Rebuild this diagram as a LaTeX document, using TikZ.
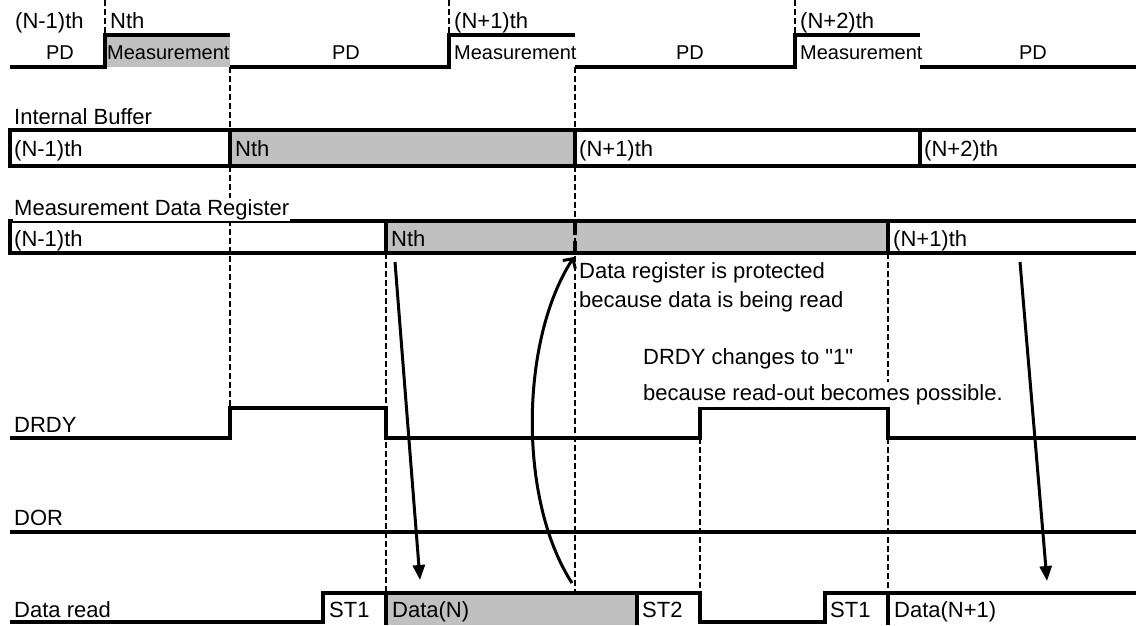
\documentclass[tikz,border=0pt]{standalone}
\usepackage{fontspec}
\setmainfont{Liberation Sans}[Ligatures=TeXOff]
\usetikzlibrary{arrows.meta}
\definecolor{shadegray}{HTML}{C0C0C0}
\newcommand\fsz{\fontsize{22}{26}\selectfont}
\newcommand\fsm{\fontsize{20}{24}\selectfont}
\begin{document}
\begin{tikzpicture}[x=1pt,y=-1pt,
  wave/.style={line width=4pt, line join=miter},
  guide/.style={line width=2pt, dash pattern=on 6pt off 3pt},
  lbl/.style={anchor=base west, inner sep=0pt, font=\fsz},
  slbl/.style={anchor=base west, inner sep=0pt, font=\fsm},
  clbl/.style={anchor=base, inner sep=0pt, font=\fsm},
  arr/.style={line width=3pt, -{Triangle[length=15pt,width=12pt]}},
  carr/.style={line width=3pt, -{Straight Barb[length=7pt,width=15pt,line width=3pt]}}]
\useasboundingbox (0,0) rectangle (1136,625);
% fills
\fill[shadegray] (105,35) rectangle (230,67);
\fill[shadegray] (230,130) rectangle (575,166);
\fill[shadegray] (386,221) rectangle (888,253);
\fill[shadegray] (386,593) rectangle (637,625);
% guides
\draw[guide] (105,0) -- (105,35);
\draw[guide] (449,0) -- (449,35);
\draw[guide] (795,0) -- (795,35);
\draw[guide] (230,67) -- (230,408);
\draw[guide] (575,67) -- (575,593);
\draw[guide] (386,253) -- (386,593);
\draw[guide] (700,438) -- (700,593);
\draw[guide] (888,253) -- (888,408);
\draw[guide] (888,438) -- (888,593);
\draw[line width=4pt, dash pattern=on 14pt off 6pt] (575,221) -- (575,253);
% top row
\draw[wave] (10,67) -- (105,67) -- (105,35) -- (230,35);
\draw[wave] (230,67) -- (449,67) -- (449,35) -- (575,35);
\draw[wave] (575,67) -- (795,67) -- (795,35) -- (920,35);
\draw[wave] (920,67) -- (1136,67);
% internal buffer
\draw[wave] (1136,130) -- (10,130) -- (10,166) -- (1136,166);
\draw[wave] (230,130) -- (230,166);
\draw[wave] (575,130) -- (575,166);
\draw[wave] (920,130) -- (920,166);
% register
\draw[wave] (1136,221) -- (10,221) -- (10,253) -- (1136,253);
\draw[wave] (386,221) -- (386,253);
\draw[wave] (888,221) -- (888,253);
% DRDY
\draw[wave] (10,438) -- (230,438) -- (230,408) -- (386,408) -- (386,438) -- (700,438) -- (700,408) -- (888,408) -- (888,438) -- (1136,438);
% DOR
\draw[wave] (10,532) -- (1136,532);
% Data read
\draw[wave] (10,622) -- (323,622) -- (323,593) -- (700,593) -- (700,622) -- (825,622) -- (825,593) -- (1136,593);
\draw[wave] (386,593) -- (386,625);
\draw[wave] (637,593) -- (637,625);
\draw[wave] (888,593) -- (888,625);
% texts top row
\node[lbl] (tn1) at (15,28) {(N-1)th};
\node[lbl] (tn) at (110,28) {Nth};
\node[lbl] (tn2) at (454,28) {(N+1)th};
\node[lbl] (tn3) at (800,28) {(N+2)th};
\node[clbl] (pd1) at (60,59) {PD};
\node[slbl] (m1) at (107,59) {Measurement};
\node[clbl] (pd2) at (346,59) {PD};
\node[slbl] (m2) at (454,59) {Measurement};
\node[clbl] (pd3) at (690,59) {PD};
\node[slbl] (m3) at (800,59) {Measurement};
\node[clbl] (pd4) at (1033,59) {PD};
% buffer texts
\node[lbl] (ib) at (14,124) {Internal Buffer};
\node[lbl] (b1) at (14,156) {(N-1)th};
\node[lbl] (b2) at (235,156) {Nth};
\node[lbl] (b3) at (579,156) {(N+1)th};
\node[lbl] (b4) at (924,156) {(N+2)th};
% register texts
\node[lbl, fill=white, inner sep=1pt] (mdr) at (13,215) {Measurement Data Register};
\node[lbl] (r1) at (14,246) {(N-1)th};
\node[lbl] (r2) at (391,246) {Nth};
\node[lbl] (r3) at (893,246) {(N+1)th};
% annotations
\node[lbl] (p1) at (579,278) {Data register is protected};
\node[lbl] (p2) at (579,307) {because data is being read};
\node[lbl] (c1) at (643,364) {DRDY changes to "1"};
\node[lbl, fill=white, inner sep=2pt] (c2) at (641,400) {because read-out becomes possible.};
% signal names
\node[lbl] (drdy) at (14,432) {DRDY};
\node[lbl] (dor) at (14,525) {DOR};
\node[lbl] (dr) at (14,617) {Data read};
\node[lbl] (st1a) at (329,617) {ST1};
\node[lbl] (dn) at (392,617) {Data(N)};
\node[lbl] (st2) at (642,617) {ST2};
\node[lbl] (st1b) at (830,617) {ST1};
\node[lbl] (dn1) at (894,617) {Data(N+1)};
% arrows
\coordinate (a1s) at (395,262);
\coordinate (a1e) at (420,580);
\coordinate (a2s) at (1020,262);
\coordinate (a2e) at (1047,581);
\coordinate (cs) at (572,583);
\coordinate (ce) at (574,257);
\draw[arr] (a1s) -- (a1e);
\draw[arr] (a2s) -- (a2e);
\draw[carr] (cs) .. controls (518,500) and (520,340) .. (ce);
\end{tikzpicture}
\end{document}
